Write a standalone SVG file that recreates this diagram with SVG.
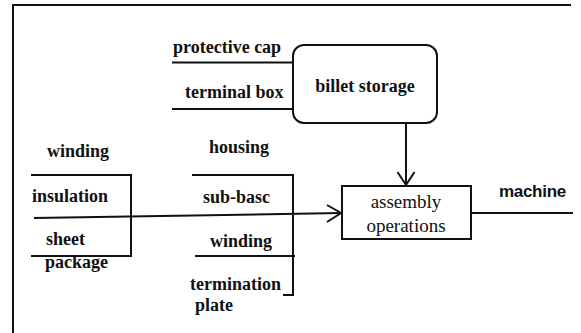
<svg xmlns="http://www.w3.org/2000/svg" width="581" height="333" viewBox="0 0 581 333">
<style>
.ln{stroke:#111;stroke-width:2;fill:none}
text{fill:#111}
.lb{font-weight:bold;font-size:18px}
.rg{font-size:19px}
.sn{font-weight:bold;font-size:17px;letter-spacing:-0.3px}
</style>
<rect width="581" height="333" fill="#fff"/>
<g id="frame">
<polyline class="ln" points="13,333 13,5 571,5" stroke-width="2.5"/>
</g>
<g font-family="'Liberation Serif', 'DejaVu Serif', serif">
<g id="billet-storage">
<rect class="ln" x="293" y="45" width="144" height="78" rx="11"/>
<text class="lb" x="365" y="92" text-anchor="middle">billet storage</text>
</g>
<g id="top-inputs">
<text class="lb" x="173" y="53">protective cap</text>
<line class="ln" x1="172" y1="62.5" x2="293" y2="62.5"/>
<text class="lb" x="185" y="98">terminal box</text>
<line class="ln" x1="172" y1="109" x2="293" y2="109"/>
</g>
<g id="assembly-operations">
<rect class="ln" x="342" y="186" width="129" height="53"/>
<text class="rg" x="406" y="208" text-anchor="middle">assembly</text>
<text class="rg" x="406" y="232" text-anchor="middle">operations</text>
</g>
<g id="left-group">
<text class="lb" x="47" y="157">winding</text>
<polyline class="ln" points="31,175 131,175 131,256 31,256"/>
<text class="lb" x="32" y="202">insulation</text>
<text class="lb" x="46" y="245">sheet</text>
<text class="lb" x="45" y="268">package</text>
</g>
<g id="right-group">
<text class="lb" x="209" y="153">housing</text>
<polyline class="ln" points="192,175 293,175 293,295 283,295"/>
<text class="lb" x="203" y="203">sub-basc</text>
<text class="lb" x="210" y="247">winding</text>
<line class="ln" x1="195" y1="256" x2="295" y2="256"/>
<text class="lb" x="190" y="290">termination</text>
<text class="lb" x="195" y="311">plate</text>
</g>
</g>
<g id="machine">
<text class="sn" font-family="'Liberation Sans', Arial, sans-serif" x="499" y="197">machine</text>
</g>
<g id="connectors">
<line class="ln" x1="406" y1="123" x2="406" y2="185"/>
<polyline class="ln" points="397.5,172 406,185 414.5,172"/>
<line class="ln" x1="34" y1="218" x2="341" y2="213"/>
<polyline class="ln" points="327,205 341,213 327,222"/>
<line class="ln" x1="471" y1="213" x2="573" y2="213"/>
</g>
</svg>
